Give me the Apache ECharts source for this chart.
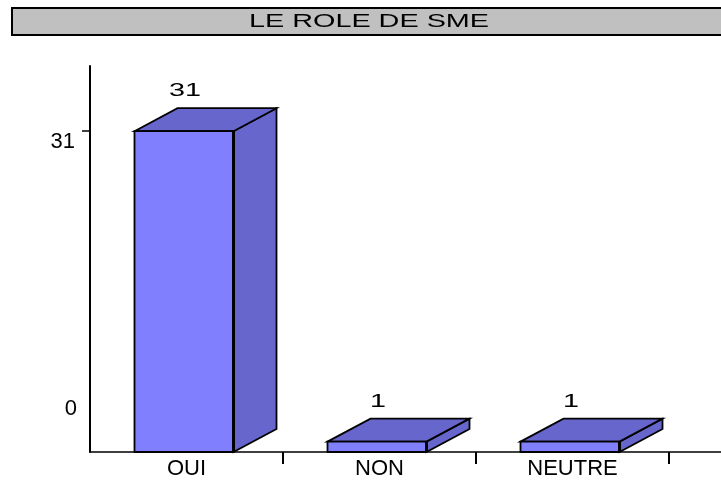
<!DOCTYPE html>
<html style="height: 100%">
<head>
	<meta charset="utf-8">
</head>
<body style="height: 100%; margin: 0; background-color: #fff;">
<div id="container" style="width: 721px; height: 481px"></div>
<script type="text/javascript" src="https://cdn.jsdelivr.net/npm/echarts@6/dist/echarts.min.js"></script>
<script type="text/javascript">
	var title = 'LE ROLE DE SME';
	var categories = ['OUI', 'NON', 'NEUTRE'];
	var values = [31, 1, 1];
	var yLabels = [0, 31];
	var yTicks = [31];

	var dom = document.getElementById("container");
	var myChart = echarts.init(dom);
	var font = 'Liberation Sans, Arial, sans-serif';
	var stretch = 1.6; // the original text is drawn wide

	// 3D-look bar: side face, top face, front face
	function renderBar(params, api) {
		var c = api.coord([api.value(0), api.value(1)]);
		var base = api.coord([api.value(0), 0]);
		var x0 = base[0] - 52, x1 = base[0] + 47;
		var yt = c[1], yb = base[1];
		var dx = 43, dy = -23;
		var edge = { stroke: '#000', lineWidth: 1.8 };
		return {
			type: 'group',
			children: [{
				type: 'polygon',
				shape: { points: [[x1, yt], [x1 + dx, yt + dy], [x1 + dx, yb + dy], [x1, yb]] },
				style: Object.assign({ fill: '#6666cc' }, edge)
			}, {
				type: 'polygon',
				shape: { points: [[x0, yt], [x0 + dx, yt + dy], [x1 + dx, yt + dy], [x1, yt]] },
				style: Object.assign({ fill: '#6666cc' }, edge)
			}, {
				type: 'rect',
				shape: { x: x0, y: yt, width: x1 - x0, height: yb - yt },
				style: Object.assign({ fill: '#8080ff' }, edge)
			}, {
				type: 'line',
				shape: { x1: x1, y1: yt, x2: x1, y2: yb },
				style: { stroke: '#000', lineWidth: 3 }
			}, {
				type: 'text',
				x: (x0 + x1) / 2 + 1, y: yt + dy - 17,
				scaleX: stretch,
				style: {
					text: String(api.value(1)),
					align: 'center', verticalAlign: 'middle',
					font: '18px ' + font, fill: '#000'
				}
			}]
		};
	}

	var option = {
		animation: false,
		graphic: [{
			type: 'rect',
			shape: { x: 12, y: 8, width: 720, height: 27 },
			style: { fill: '#c0c0c0', stroke: '#000', lineWidth: 2 }
		}, {
			type: 'text',
			x: 369, y: 22, scaleX: stretch,
			style: {
				text: title, align: 'center', verticalAlign: 'middle',
				font: '18px ' + font, fill: '#000'
			}
		}],
		grid: { left: 90, top: 66, width: 631, height: 386 },
		xAxis: {
			type: 'value', min: 0, max: 631 / 193,
			splitLine: { show: false },
			axisLine: { lineStyle: { color: '#000', width: 1.5 } },
			axisTick: { customValues: [1, 2, 3], length: 12, lineStyle: { color: '#000', width: 2 } },
			axisLabel: {
				customValues: [0.5, 1.5, 2.5],
				formatter: function(v) { return categories[Math.floor(v)]; },
				color: '#000', fontFamily: font, fontSize: 22,
				margin: 6
			}
		},
		yAxis: {
			type: 'value', min: 0, max: 37.3,
			splitLine: { show: false },
			axisLine: { show: true, lineStyle: { color: '#000', width: 2 } },
			axisTick: { customValues: yTicks, length: 8, lineStyle: { color: '#000', width: 1.5 } },
			axisLabel: {
				customValues: yLabels,
				// 0 sits up on the back wall, 31 just under its tick
				formatter: function(v) { return v === 0 ? '{z|0}' : '{t|' + v + '}'; },
				margin: 13,
				rich: {
					z: { color: '#000', fontFamily: font, fontSize: 22, padding: [0, 0, 86, 0] },
					t: { color: '#000', fontFamily: font, fontSize: 22, padding: [22, 2, 0, 0] }
				}
			}
		},
		series: [{
			type: 'custom',
			renderItem: renderBar,
			data: values.map(function(v, i) { return [i + 0.5, v]; })
		}]
	};
	myChart.setOption(option);
</script>
</body>
</html>
